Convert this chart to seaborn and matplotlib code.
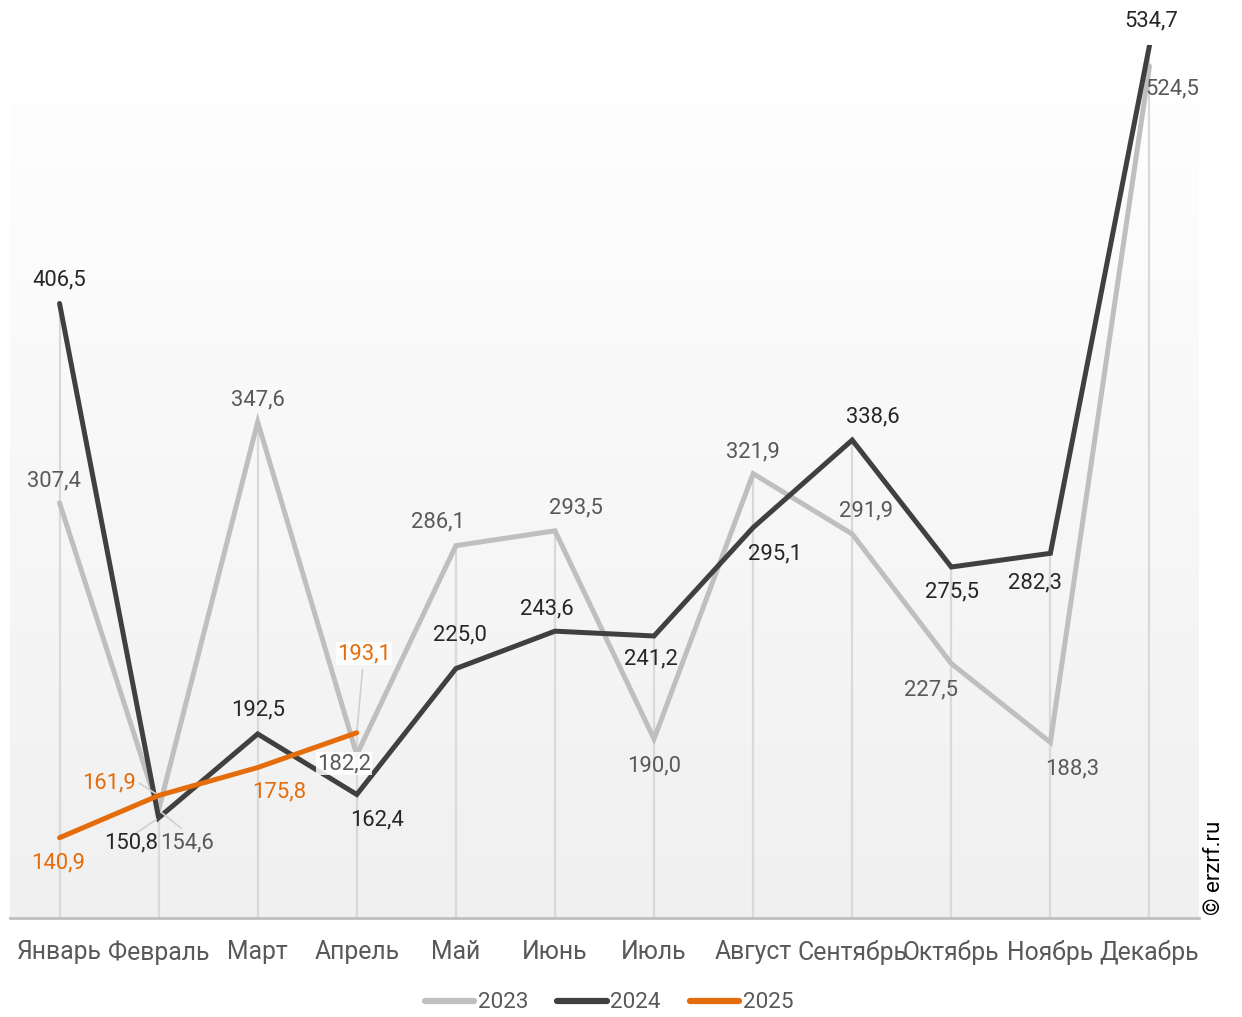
import numpy as np
import pandas as pd
import matplotlib
matplotlib.use("Agg")
import matplotlib.pyplot as plt
from matplotlib.colors import LinearSegmentedColormap
from matplotlib.lines import Line2D
import seaborn as sns

months = ["Январь", "Февраль", "Март", "Апрель", "Май", "Июнь",
          "Июль", "Август", "Сентябрь", "Октябрь", "Ноябрь", "Декабрь"]
years = ["2023", "2024", "2025"]
values_2023 = [307.4, 154.6, 347.6, 182.2, 286.1, 293.5, 190.0, 321.9, 291.9, 227.5, 188.3, 524.5]
values_2024 = [406.5, 150.8, 192.5, 162.4, 225.0, 243.6, 241.2, 295.1, 338.6, 275.5, 282.3, 534.7]
values_2025 = [140.9, 161.9, 175.8, 193.1]

colors = {"2023": "#bfbfbf", "2024": "#404040", "2025": "#e46c0a"}
label_colors = {"2023": "#595959", "2024": "#262626", "2025": "#e46c0a"}

# label offsets in pixels (dx, dy) relative to each point
offsets = {
    "2023": [(-6, 22), (28, -33), (0, 22), (-13, -9), (-18, 24), (21, 23),
             (0, -27), (0, 22), (14, 23), (-20, -26), (22, -27), (23, -23)],
    "2024": [(0, 24), (-28, -25), (0, 24), (20, -25), (4, 34), (-8, 22),
             (-3, -23), (22, -26), (21, 23), (1, -25), (-15, -30), (2, 25)],
    "2025": [(-1, -25), (-50, 13), (21, -24), (7, 79)],
}

rows = []
for yr, vals in zip(years, [values_2023, values_2024, values_2025]):
    for i, v in enumerate(vals):
        rows.append({"month": i, "value": v, "year": yr})
df = pd.DataFrame(rows)

sns.set_theme(style="white")
plt.rcParams["font.family"] = ["Roboto", "DejaVu Sans"]

fig = plt.figure(figsize=(12.42, 10.17), dpi=100)
ax = fig.add_axes([10 / 1242, 1 - 918 / 1017, 1189 / 1242, (918 - 45) / 1017])

# background gradient of the plot area
cmap = LinearSegmentedColormap.from_list("bg", ["#ffffff", "#f0f0f0"])
ax.imshow(np.linspace(0, 1, 256).reshape(-1, 1), cmap=cmap, extent=[0, 1, 0, 1],
          transform=ax.transAxes, aspect="auto", zorder=0)

ymin, ymax = 101, 535

# drop lines from the highest point in each month
for i in range(len(months)):
    top = max(v for v in df.loc[df["month"] == i, "value"])
    ax.plot([i, i], [ymin, top], color="#d9d9d9", lw=1.6, zorder=1)

for z, yr in zip([2, 3, 4], years):
    sns.lineplot(data=df[df["year"] == yr], x="month", y="value", color=colors[yr],
                 lw=3.6, solid_capstyle="round", solid_joinstyle="miter",
                 legend=False, ax=ax, zorder=z, sort=False)

# leader lines for displaced labels
leader = dict(arrowstyle="-", color="#d0d0d0", lw=1.2)
ax.annotate("", xy=(1, 154.6), xytext=(25, -20), textcoords="offset pixels", arrowprops=leader)
ax.annotate("", xy=(1, 150.8), xytext=(-25, -17), textcoords="offset pixels", arrowprops=leader)
ax.annotate("", xy=(1, 161.9), xytext=(-22, 14), textcoords="offset pixels", arrowprops=leader)
ax.annotate("", xy=(3, 193.1), xytext=(6, 66), textcoords="offset pixels", arrowprops=leader)

for yr, vals in zip(years, [values_2023, values_2024, values_2025]):
    for i, v in enumerate(vals):
        dx, dy = offsets[yr][i]
        bbox = None
        if yr in ("2023", "2025") and i == 3:
            bbox = dict(boxstyle="square,pad=0.05", fc="white", ec="none", alpha=0.85)
        ax.annotate(f"{v:.1f}".replace(".", ","), xy=(i, v), xytext=(dx, dy),
                    textcoords="offset pixels", ha="center", va="center",
                    fontsize=15.8, color=label_colors[yr], zorder=6,
                    annotation_clip=False, bbox=bbox)

ax.set_xlim(-0.5, 11.5)
ax.set_ylim(ymin, ymax)
ax.set_xticks(range(len(months)))
ax.set_xticklabels(months, fontsize=17.8, color="#595959")
ax.set_xticks(np.arange(-0.5, 12, 1), minor=True)
ax.tick_params(axis="x", which="major", length=0, pad=16)
ax.tick_params(axis="x", which="minor", length=10, width=1.5, color="#bfbfbf")
ax.set_yticks([])
ax.set_xlabel("")
ax.set_ylabel("")
for s in ["top", "right", "left"]:
    ax.spines[s].set_visible(False)
ax.spines["bottom"].set_color("#bfbfbf")
ax.spines["bottom"].set_linewidth(2)
ax.spines["bottom"].set_zorder(5)

handles = [Line2D([0], [0], color=colors[yr], lw=4.5, solid_capstyle="round") for yr in years]
fig.legend(handles, years, loc="center", bbox_to_anchor=(609 / 1242, 1 - 1003 / 1017),
           ncol=3, frameon=False, fontsize=16.2, labelcolor="#595959",
           handlelength=2.2, handletextpad=0.15, columnspacing=1.3)

fig.text(1215 / 1242, 1 - 868 / 1017, "© erzrf.ru", rotation=90, ha="center", va="center",
         fontsize=16, color="#000000")

fig.savefig("out.png", dpi=100, facecolor="white")
